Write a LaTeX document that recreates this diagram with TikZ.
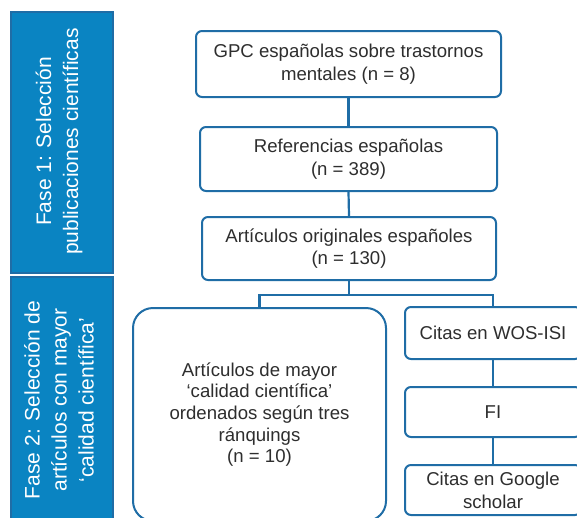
\documentclass[tikz,border=0pt]{standalone}
\usepackage{fontspec}
\setmainfont{Liberation Sans}
\definecolor{lineblue}{HTML}{1F6DA6}
\definecolor{barblue}{HTML}{0A84C2}
\definecolor{bartext}{HTML}{FFFFFF}
\definecolor{txt}{HTML}{2E2E2E}
\tikzset{
  box/.style={draw=lineblue, line width=2pt, rounded corners=6pt, fill=white,
    text=txt, align=center, inner sep=0pt,
    font=\fontsize{18.6pt}{22.8pt}\selectfont},
  bigbox/.style={box, rounded corners=20pt},
  bar/.style={draw=lineblue, line width=1.5pt, fill=barblue, inner sep=0pt},
  bartxt/.style={text=bartext, align=center, rotate=90, inner sep=0pt,
    font=\fontsize{21pt}{27pt}\selectfont},
  conn/.style={draw=lineblue, line width=2.2pt}
}
\begin{document}
\begin{tikzpicture}[x=1pt,y=-1pt]
\useasboundingbox (0,0) rectangle (577,517);
% phase bars
\node[bar, minimum width=102pt, minimum height=261pt] (f1) at (62,142.5) {};
\node[bartxt] (f1t) at (59,141.5) {Fase 1: Selección\\publicaciones científicas};
\node[bar, minimum width=102pt, minimum height=246pt] (f2) at (62,400) {};
\node[bartxt] (f2t) at (59,400) {Fase 2: Selección de\\artículos con mayor\\‘calidad científica’};
% flow boxes
\node[box, minimum width=305pt, minimum height=66pt] (a) at (348.5,64) {GPC españolas sobre trastornos\\mentales (n = 8)};
\node[box, minimum width=297pt, minimum height=64pt] (b) at (348.5,159) {Referencias españolas\\(n = 389)};
\node[box, minimum width=294pt, minimum height=63pt] (c) at (349,248.5) {Artículos originales españoles\\(n = 130)};
\node[bigbox, minimum width=253pt, minimum height=213pt, font=\fontsize{18.6pt}{21.7pt}\selectfont] (d) at (259.5,414.5) {Artículos de mayor\\‘calidad científica’\\ordenados según tres\\ránquings\\(n = 10)};
\node[box, minimum width=176pt, minimum height=52pt] (e) at (493,333) {Citas en WOS-ISI};
\node[box, minimum width=176pt, minimum height=50pt] (f) at (493,412) {FI};
\node[box, minimum width=176pt, minimum height=50pt] (g) at (493,490) {Citas en Google\\scholar};
% connectors
\coordinate (sp) at (349,295);
\draw[conn] (a.south) -- (b.north);
\draw[conn] (b.south) -- (c.north);
\draw[conn] (c.south) -- (sp);
\draw[conn] (d.north) -- (d.north |- sp) -- (e.north |- sp) -- (e.north);
\draw[conn] (e.south) -- (f.north);
\draw[conn] (f.south) -- (g.north);
\end{tikzpicture}
\end{document}
